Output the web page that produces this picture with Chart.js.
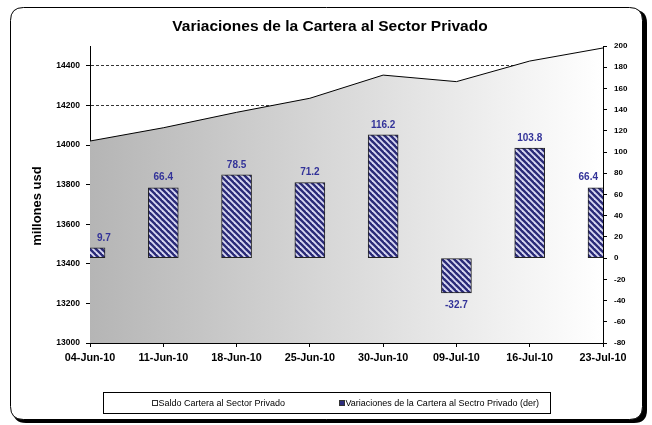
<!DOCTYPE html>
<html>
<head>
<meta charset="utf-8">
<script src="https://cdn.jsdelivr.net/npm/chart.js@4/dist/chart.umd.min.js"></script>
<style>
html,body{margin:0;padding:0;background:#fff;}
#wrap{position:relative;width:652px;height:425px;}
</style>
</head>
<body>
<div id="wrap"><canvas id="c" width="652" height="425"></canvas></div>
<script>
// ---- data ----
const categories = ["04-Jun-10","11-Jun-10","18-Jun-10","25-Jun-10","30-Jun-10","09-Jul-10","16-Jul-10","23-Jul-10"];
const saldoCartera = [14020, 14087, 14165, 14236, 14353, 14320, 14424, 14490];
const variaciones = [9.7, 66.4, 78.5, 71.2, 116.2, -32.7, 103.8, 66.4];
const leftTicks = {min: 13000, max: 14500, step: 200};
const rightTicks = {min: -80, max: 200, step: 20};
const titleText = "Variaciones de la Cartera al Sector Privado";
const yTitleText = "millones usd";
const legendLabels = ["Saldo Cartera al Sector Privado", "Variaciones de la Cartera al Sectro Privado (der)"];

const FONT = "'Liberation Sans', Arial, Helvetica, sans-serif";
const NAVY = '#333399';

// striped pattern for bars
function makePattern() {
  const n = 6;
  const p = document.createElement('canvas');
  p.width = n; p.height = n;
  const g = p.getContext('2d');
  g.fillStyle = '#2a2a78';
  g.fillRect(0, 0, n, n);
  g.strokeStyle = '#d8d8f2';
  g.lineWidth = 1.9;
  [[0,0],[-n,0],[n,0]].forEach(o => {
    g.beginPath(); g.moveTo(o[0]-1, o[1]-1); g.lineTo(o[0]+n+1, o[1]+n+1); g.stroke();
  });
  return document.getElementById('c').getContext('2d').createPattern(p, 'repeat');
}
const barPattern = makePattern();

function roundRect(ctx, x, y, w, h, r) {
  ctx.beginPath();
  ctx.moveTo(x + r, y);
  ctx.lineTo(x + w - r, y);
  ctx.quadraticCurveTo(x + w, y, x + w, y + r);
  ctx.lineTo(x + w, y + h - r);
  ctx.quadraticCurveTo(x + w, y + h, x + w - r, y + h);
  ctx.lineTo(x + r, y + h);
  ctx.quadraticCurveTo(x, y + h, x, y + h - r);
  ctx.lineTo(x, y + r);
  ctx.quadraticCurveTo(x, y, x + r, y);
  ctx.closePath();
}

const framePlugin = {
  id: 'frame',
  beforeDraw(chart) {
    const ctx = chart.ctx;
    ctx.save();
    ctx.fillStyle = '#fff';
    ctx.fillRect(0, 0, chart.width, chart.height);
    // shadow
    ctx.fillStyle = '#000';
    roundRect(ctx, 13, 10, 634, 413, 13);
    ctx.fill();
    ctx.fillStyle = '#fff';
    ctx.strokeStyle = '#000';
    ctx.lineWidth = 1;
    roundRect(ctx, 10.5, 7.5, 632, 412, 13);
    ctx.fill();
    ctx.stroke();
    ctx.restore();
  },
  afterDraw(chart) {
    const ctx = chart.ctx;
    ctx.save();
    // title
    ctx.fillStyle = '#000';
    ctx.font = 'bold 15.5px ' + FONT;
    ctx.textAlign = 'center';
    ctx.textBaseline = 'middle';
    ctx.fillText(titleText, 330, 27);
    // y title
    ctx.save();
    ctx.translate(37, 206);
    ctx.rotate(-Math.PI / 2);
    ctx.font = 'bold 13px ' + FONT;
    ctx.fillText(yTitleText, 0, 0);
    ctx.restore();
    // legend
    ctx.lineWidth = 1;
    ctx.strokeStyle = '#000';
    ctx.strokeRect(103.5, 392.5, 447, 21);
    ctx.font = '9px ' + FONT;
    ctx.textAlign = 'left';
    ctx.fillStyle = '#fff';
    ctx.fillRect(152.5, 400.5, 5, 5);
    ctx.strokeStyle = '#333';
    ctx.strokeRect(152.5, 400.5, 5, 5);
    ctx.fillStyle = '#000';
    ctx.fillText(legendLabels[0], 158.5, 403.5);
    ctx.fillStyle = '#2c2c7c';
    ctx.fillRect(339.5, 400.5, 5, 5);
    ctx.strokeRect(339.5, 400.5, 5, 5);
    ctx.fillStyle = '#000';
    ctx.fillText(legendLabels[1], 345.5, 403.5);
    ctx.restore();
  }
};

const labelPlugin = {
  id: 'barLabels',
  afterDatasetsDraw(chart) {
    const ctx = chart.ctx;
    const area = chart.chartArea;
    const meta = chart.getDatasetMeta(1);
    ctx.save();
    ctx.font = 'bold 10px ' + FONT;
    ctx.fillStyle = NAVY;
    ctx.textAlign = 'center';
    ctx.textBaseline = 'middle';
    meta.data.forEach((el, i) => {
      const v = variaciones[i];
      const txt = v.toFixed(1);
      const w = ctx.measureText(txt).width;
      let x = el.x;
      x = Math.max(x, area.left + 7 + w / 2);
      x = Math.min(x, area.right - 5 - w / 2);
      const y = v >= 0 ? el.y - 10 : el.y + 12;
      ctx.fillText(txt, x, y);
    });
    ctx.restore();
  }
};

const ctx = document.getElementById('c').getContext('2d');
new Chart(ctx, {
  type: 'bar',
  data: {
    labels: categories,
    datasets: [
      {
        type: 'line',
        label: legendLabels[0],
        data: saldoCartera,
        yAxisID: 'y',
        order: 2,
        fill: 'start',
        borderColor: '#000',
        borderWidth: 1,
        pointRadius: 0,
        tension: 0,
        backgroundColor: (c) => {
          const a = c.chart.chartArea;
          if (!a) return '#ccc';
          const g = c.chart.ctx.createLinearGradient(a.left, 0, a.right, 0);
          g.addColorStop(0, '#b5b5b5');
          g.addColorStop(1, '#ffffff');
          return g;
        }
      },
      {
        type: 'bar',
        label: legendLabels[1],
        data: variaciones,
        yAxisID: 'y2',
        order: 1,
        backgroundColor: barPattern,
        borderColor: '#222',
        borderWidth: 1,
        borderSkipped: false,
        barThickness: 30
      }
    ]
  },
  options: {
    responsive: false,
    animation: false,
    layout: {padding: {top: 46, bottom: 55, left: 0, right: 0}},
    plugins: {legend: {display: false}, title: {display: false}, tooltip: {enabled: false}},
    scales: {
      x: {
        type: 'category',
        offset: false,
        afterFit(s) { s.height = 27; },
        grid: {offset: false, drawOnChartArea: false, drawTicks: true, tickLength: 4, color: '#000'},
        border: {display: true, color: '#000', width: 1},
        ticks: {color: '#000', font: {family: FONT, size: 10.8, weight: 'bold'}, padding: 5, maxRotation: 0, autoSkip: false}
      },
      y: {
        position: 'left',
        min: leftTicks.min, max: leftTicks.max,
        afterFit(s) { s.width = 90; },
        grid: {color: '#000', lineWidth: 0.8, drawTicks: true, tickLength: 4, tickColor: '#000', tickWidth: 1},
        border: {display: true, color: '#000', width: 1, dash: [3, 2]},
        ticks: {stepSize: leftTicks.step, includeBounds: false, color: '#000', padding: 6,
                font: {family: FONT, size: 8.5, weight: 'bold'},
                callback: (v) => String(v)}
      },
      y2: {
        position: 'right',
        min: rightTicks.min, max: rightTicks.max,
        afterFit(s) { s.width = 49; },
        grid: {drawOnChartArea: false, drawTicks: true, tickLength: 4, tickColor: '#000'},
        border: {display: true, color: '#000', width: 1},
        ticks: {stepSize: rightTicks.step, color: '#000', padding: 7,
                font: {family: FONT, size: 8, weight: 'bold'},
                callback: (v) => String(v)}
      }
    }
  },
  plugins: [framePlugin, labelPlugin]
});
</script>
</body>
</html>
